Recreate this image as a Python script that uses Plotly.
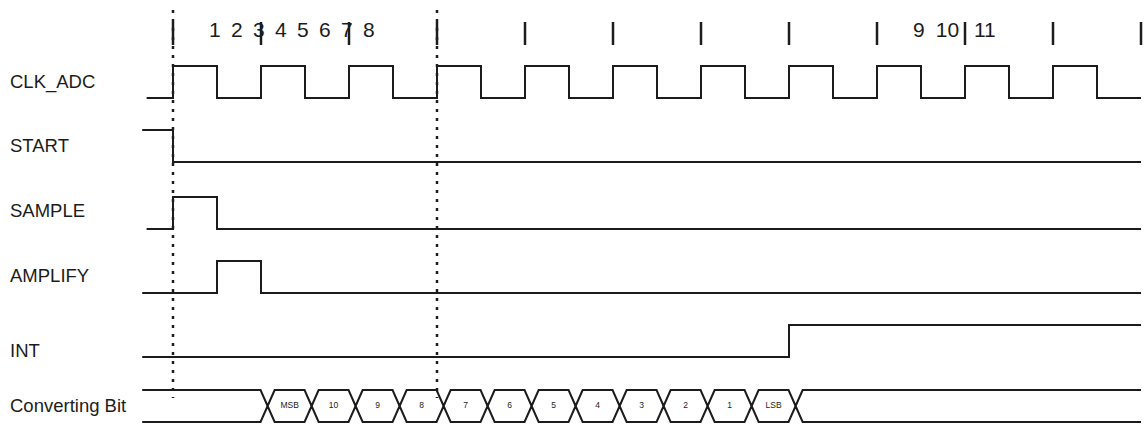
import plotly.graph_objects as go

# time unit = half a clock period, 0 = first rising edge of CLK_ADC
signal_names = ["CLK_ADC", "START", "SAMPLE", "AMPLIFY", "INT", "Converting Bit"]

clk_init = 0
clk_edges = [0, 1, 2, 3, 4, 5, 6, 7, 8, 9, 10, 11, 12, 13, 14, 15, 16, 17, 18, 19, 20, 21]
start_init = 1
start_edges = [0]
sample_init = 0
sample_edges = [0, 1]
amplify_init = 0
amplify_edges = [1, 2]
int_init = 0
int_edges = [14]

bit_labels = ["MSB", "10", "9", "8", "7", "6", "5", "4", "3", "2", "1", "LSB"]
bit_cross = [2.15, 3.15, 4.15, 5.15, 6.15, 7.15, 8.15, 9.15, 10.15, 11.15, 12.15, 13.15, 14.15]

count_labels = ["1", "2", "3", "4", "5", "6", "7", "8", "9", "10", "11"]
count_times = [0.95, 1.45, 1.95, 2.45, 2.95, 3.45, 3.95, 4.45, 16.95, 17.6, 18.45]

tick_times = [0, 2, 4, 6, 8, 10, 12, 14, 16, 18, 20, 22]
marker_times = [0, 6]

t_begin = [-0.6, -0.7, -0.6, -0.7, -0.7, -0.7]
t_end = 22

# layout (y in pixels from the top)
row_low = [98, 162, 229, 293, 357]
swing = 32
bus_top, bus_bot = 390, 422
label_y = [82, 145, 210, 275, 350, 405]
x_half = 0.16
INK = "#1c1c1c"
FONT = "Arial, Liberation Sans, sans-serif"


def step(init, edges, t0, t1):
    xs, ys, lvl = [t0], [init], init
    for e in edges:
        lvl = 1 - lvl
        xs.append(e)
        ys.append(lvl)
    xs.append(t1)
    ys.append(lvl)
    return xs, ys


fig = go.Figure()

waves = [(clk_init, clk_edges), (start_init, start_edges), (sample_init, sample_edges),
         (amplify_init, amplify_edges), (int_init, int_edges)]
for i, (init, edges) in enumerate(waves):
    xs, ys = step(init, edges, t_begin[i], t_end)
    fig.add_trace(go.Scatter(
        x=xs, y=[row_low[i] - v * swing for v in ys],
        mode="lines", line=dict(color=INK, width=2, shape="hv"),
        hoverinfo="skip"))

# converting bit bus
mid = (bus_top + bus_bot) / 2
for rail in (bus_top, bus_bot):
    xs, ys = [t_begin[5]], [rail]
    for c in bit_cross:
        xs += [c - x_half, c, c + x_half]
        ys += [rail, mid, rail]
    xs.append(t_end)
    ys.append(rail)
    fig.add_trace(go.Scatter(x=xs, y=ys, mode="lines",
                             line=dict(color=INK, width=2), hoverinfo="skip"))

fig.add_trace(go.Scatter(
    x=[(a + b) / 2 for a, b in zip(bit_cross[:-1], bit_cross[1:])],
    y=[mid] * len(bit_labels), mode="text", text=bit_labels,
    textfont=dict(family=FONT, size=8.5, color=INK), hoverinfo="skip"))

# cycle counter on top
fig.add_trace(go.Scatter(
    x=count_times, y=[32] * len(count_labels), mode="text", text=count_labels,
    textfont=dict(family=FONT, size=21, color=INK), hoverinfo="skip"))

for t in tick_times:
    fig.add_shape(type="line", x0=t, x1=t, y0=22, y1=45,
                  line=dict(color=INK, width=2.5))

for t in marker_times:
    fig.add_shape(type="line", x0=t, x1=t, y0=10, y1=398,
                  line=dict(color=INK, width=2.5, dash="3px,6px"))

for name, y in zip(signal_names, label_y):
    fig.add_annotation(x=-165 / 44, y=y, text=name, showarrow=False,
                       xanchor="left", yanchor="middle",
                       font=dict(family=FONT, size=18.5, color=INK))

fig.update_layout(
    width=1148, height=429,
    margin=dict(l=0, r=0, t=0, b=0),
    paper_bgcolor="white", plot_bgcolor="white",
    showlegend=False,
    xaxis=dict(range=[-173 / 44, 975 / 44], visible=False, fixedrange=True),
    yaxis=dict(range=[429, 0], visible=False, fixedrange=True),
)

fig.write_html("out.html", config={"displayModeBar": False},
               post_script="document.body.style.margin='0';document.body.style.overflow='hidden';")
